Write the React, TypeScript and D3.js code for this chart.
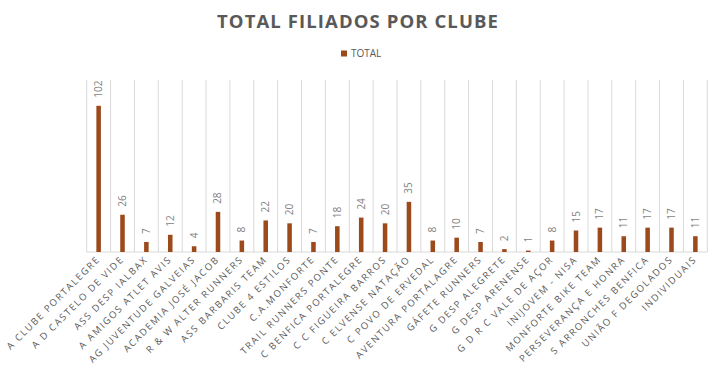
import React from "react";
import * as d3 from "d3";

const categories = [
  "A CLUBE PORTALEGRE", "A D CASTELO DE VIDE", "ASS DESP IALBAX", "A AMIGOS ATLET AVIS",
  "AG JUVENTUDE GALVEIAS", "ACADEMIA JOSÉ JACOB", "R & W ALTER RUNNERS", "ASS BARBARIS TEAM",
  "CLUBE 4 ESTILOS", "C.A.MONFORTE", "TRAIL RUNNERS PONTE", "C BENFICA PORTALEGRE",
  "C C FIGUEIRA BARROS", "C ELVENSE NATAÇÃO", "C POVO DE ERVEDAL", "AVENTURA PORTALAGRE",
  "GÁFETE RUNNERS", "G DESP ALEGRETE", "G DESP ARENENSE", "G D R C VALE DE AÇOR",
  "INIJOVEM - NISA", "MONFORTE BIKE TEAM", "PERSEVERANÇA E HONRA", "S ARRONCHES BENFICA",
  "UNIÃO F DEGOLADOS", "INDIVIDUAIS",
];
const totals = [102, 26, 7, 12, 4, 28, 8, 22, 20, 7, 18, 24, 20, 35, 8, 10, 7, 2, 1, 8, 15, 17, 11, 17, 17, 11];
const seriesName = "TOTAL";
const title = "TOTAL FILIADOS POR CLUBE";

const W = 719, H = 376;
const left = 86.7, right = 707.3, top = 80, bottom = 252;
const barColor = "#9c4a1c";
const gridColor = "#d9d9d9";
const font = "'Open Sans', 'Noto Sans', sans-serif";

export default function App() {
  const x = d3.scaleBand<string>().domain(categories).range([left, right]).paddingInner(0).paddingOuter(0);
  const y = d3.scaleLinear().domain([0, 120]).range([bottom, top]);
  const bw = x.bandwidth() * 0.19;
  const bounds = categories.map((c) => x(c)!).concat([right]);
  return (
    <svg width={W} height={H} style={{ position: "absolute", left: 0, top: 0, background: "#fff" }}>
      <text x={358} y={27.5} textAnchor="middle" fontFamily={font} fontWeight={700} fontSize={18.5}
        letterSpacing={1.1} fill="#595959">{title}</text>
      <rect x={341} y={50.5} width={6} height={6} fill={barColor} />
      <text x={351} y={57} fontFamily={font} fontSize={10} fill="#595959">{seriesName}</text>
      {bounds.map((b, i) => (
        <line key={"g" + i} x1={b} x2={b} y1={top} y2={bottom} stroke={gridColor} strokeWidth={1} />
      ))}
      <line x1={left} x2={right} y1={bottom} y2={bottom} stroke={gridColor} strokeWidth={1} />
      {categories.map((c, i) => {
        const cx = x(c)! + x.bandwidth() / 2;
        const v = totals[i];
        return (
          <g key={c}>
            <rect x={cx - bw / 2} y={y(v)} width={bw} height={bottom - y(v)} fill={barColor} />
            <text transform={`translate(${cx + 3.5},${y(v) - 8}) rotate(-90)`} fontFamily={font}
              fontSize={10} fill="#7f7f7f">{v}</text>
            <text transform={`translate(${cx + 2},${bottom + 8}) rotate(-45)`} textAnchor="end"
              fontFamily={font} fontSize={9.5} letterSpacing={1.6} fill="#595959">{c}</text>
          </g>
        );
      })}
    </svg>
  );
}
